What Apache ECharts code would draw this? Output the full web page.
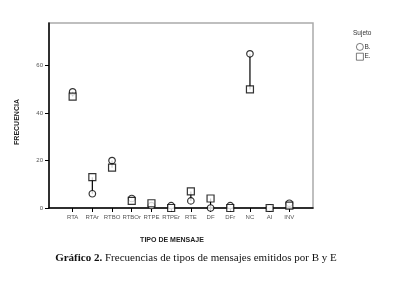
<!DOCTYPE html>
<html>
<head>
<meta charset="utf-8">
<script src="https://cdn.jsdelivr.net/npm/echarts@6/dist/echarts.min.js"></script>
<style>
  html, body { margin: 0; padding: 0; background: #fff; }
  #chart { width: 397px; height: 285px; }
</style>
</head>
<body>
<div id="chart"></div>
<script>
// message types and frequencies per subject
const categories = ['RTA', 'RTAr', 'RTBO', 'RTBOr', 'RTPE', 'RTPEr', 'RTE', 'DF', 'DFr', 'NC', 'AI', 'INV'];
const valuesB = [49, 6, 20, 4, 1, 1, 3, 0, 1, 65, 0, 2];
const valuesE = [47, 13, 17, 3, 2, 0, 7, 4, 0, 50, 0, 1];
const yTicks = [0, 20, 40, 60];

const idx = categories.map((c, i) => i);
const ranges = idx.map(i => [i, Math.min(valuesB[i], valuesE[i]), Math.max(valuesB[i], valuesE[i])]);

const chart = echarts.init(document.getElementById('chart'));
const markStyle = { color: '#fff', borderColor: '#000', borderWidth: 1.2 };

chart.setOption({
  animation: false,
  grid: { left: 49, right: 84, top: 23, bottom: 77, show: true, borderColor: '#aaa', borderWidth: 1.5 },
  title: {
    text: 'Sujeto', left: 348, top: 25,
    textStyle: { fontSize: 6.5, fontWeight: 'normal', color: '#333', fontFamily: 'Liberation Sans' }
  },
  legend: {
    orient: 'vertical', left: 351, top: 38, itemWidth: 7, itemHeight: 7, itemGap: 2,
    itemStyle: { color: '#fff', borderColor: '#333', borderWidth: 0.8 },
    textStyle: { fontSize: 6.5, color: '#333', fontFamily: 'Liberation Sans', padding: [0, 0, 0, -4] },
    data: [{ name: 'B.', icon: 'circle' }, { name: 'E.', icon: 'rect' }]
  },
  xAxis: {
    type: 'value', min: -1.2, max: 12.2,
    splitLine: { show: false },
    axisLine: { onZero: false, lineStyle: { color: '#000', width: 1.5 } },
    axisTick: { customValues: idx, length: 4, lineStyle: { color: '#000' } },
    axisLabel: {
      customValues: idx, fontSize: 6, color: '#555', margin: 6, fontFamily: 'Liberation Sans',
      formatter: v => categories[Math.round(v)]
    }
  },
  yAxis: {
    type: 'value', min: 0, max: 78,
    splitLine: { show: false },
    axisLine: { show: true, onZero: false, lineStyle: { color: '#000', width: 1.5 } },
    axisTick: { customValues: yTicks, length: 4, lineStyle: { color: '#000' } },
    axisLabel: { customValues: yTicks, fontSize: 6, color: '#555', margin: 6, fontFamily: 'Liberation Sans' }
  },
  graphic: [
    {
      type: 'text', x: 17, y: 122, rotation: Math.PI / 2,
      style: { text: 'FRECUENCIA', font: 'bold 7px "Liberation Sans"', fill: '#222', align: 'center', verticalAlign: 'middle' }
    },
    {
      type: 'text', x: 172, y: 240,
      style: { text: 'TIPO DE MENSAJE', font: 'bold 7px "Liberation Sans"', fill: '#222', align: 'center', verticalAlign: 'middle' }
    },
    {
      type: 'text', x: 196, y: 258,
      style: {
        text: '{b|Gráfico 2.} Frecuencias de tipos de mensajes emitidos por B y E',
        font: '11px "Liberation Serif"', fill: '#111', align: 'center', verticalAlign: 'middle',
        rich: { b: { fontWeight: 'bold', fontSize: 11, fontFamily: 'Liberation Serif', fill: '#111' } }
      }
    }
  ],
  series: [
    {
      type: 'custom',
      silent: true,
      data: ranges,
      renderItem: (params, api) => {
        const p1 = api.coord([api.value(0), api.value(1)]);
        const p2 = api.coord([api.value(0), api.value(2)]);
        return {
          type: 'line',
          shape: { x1: p1[0], y1: p1[1], x2: p2[0], y2: p2[1] },
          style: { stroke: '#000', lineWidth: 1.2 }
        };
      }
    },
    {
      name: 'B.', type: 'scatter', symbol: 'circle', symbolSize: 6.5,
      itemStyle: markStyle,
      data: idx.map(i => [i, valuesB[i]])
    },
    {
      name: 'E.', type: 'scatter', symbol: 'rect', symbolSize: 7,
      itemStyle: markStyle,
      data: idx.map(i => [i, valuesE[i]])
    }
  ]
});
</script>
</body>
</html>
